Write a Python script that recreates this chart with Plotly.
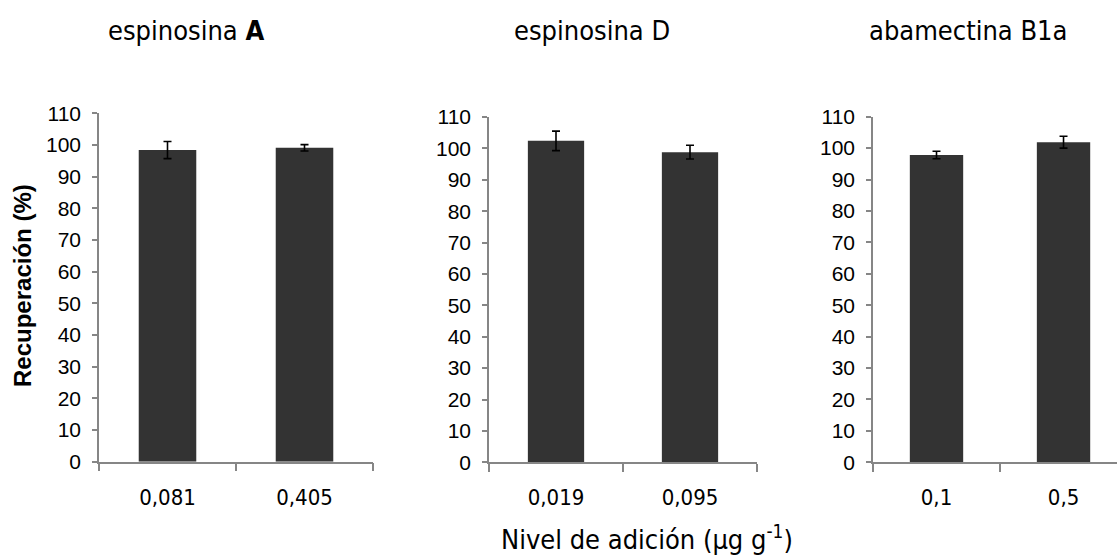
import plotly.graph_objects as go

W, H = 1117, 555

titles = ["espinosina <b>A</b>", "espinosina D", "abamectina B1a"]
levels = [["0,081", "0,405"], ["0,019", "0,095"], ["0,1", "0,5"]]
recovery = [[98.4, 99.1], [102.4, 98.8], [97.8, 101.9]]
errors = [[2.7, 1.0], [3.1, 2.2], [1.2, 1.9]]
y_ticks = list(range(0, 111, 10))

NARROW = "Liberation Sans Narrow, Arial Narrow, DejaVu Sans Condensed, sans-serif"
SANS = "Liberation Sans, Arial, sans-serif"
AXIS_GRAY = "#868686"
BAR = "#333333"

# pixel geometry of each panel (left, right, bottom(0), top(110))
panels = [
    dict(x0=99, x1=373, yb=461.7, yt=113.3, xr=[-0.5, 1.5]),
    dict(x0=489, x1=757, yb=462.3, yt=117.0, xr=[-0.5, 1.5]),
    dict(x0=873, x1=1117, yb=462.3, yt=116.7, xr=[-0.5, 1.421]),
]
title_cx = [186, 591.5, 968]

fig = go.Figure()
layout = dict(
    width=W, height=H,
    margin=dict(l=0, r=0, t=0, b=0),
    paper_bgcolor="white", plot_bgcolor="white",
    showlegend=False,
)

for i, p in enumerate(panels):
    sfx = "" if i == 0 else str(i + 1)
    fig.add_trace(go.Bar(
        x=levels[i], y=recovery[i],
        marker=dict(color=BAR, line=dict(width=0)),
        error_y=dict(type="data", array=errors[i], visible=True,
                     color="black", thickness=1.6, width=4),
        xaxis="x" + sfx, yaxis="y" + sfx,
        width=0.42,
    ))
    layout["xaxis" + sfx] = dict(
        domain=[p["x0"] / W, p["x1"] / W],
        anchor="y" + sfx,
        type="category",
        range=p["xr"],
        showline=True, linecolor=AXIS_GRAY, linewidth=1.5,
        ticks="outside", ticklen=8, tickcolor=AXIS_GRAY, tickwidth=1.5,
        tickson="boundaries",
        showgrid=False, zeroline=False,
        tickfont=dict(family=NARROW, size=22, color="black"),
        ticklabelstandoff=15,
        automargin=False,
    )
    layout["yaxis" + sfx] = dict(
        domain=[1 - p["yb"] / H, 1 - p["yt"] / H],
        anchor="x" + sfx,
        range=[0, 110],
        tickmode="array", tickvals=y_ticks, ticktext=[str(v) for v in y_ticks],
        showline=True, linecolor=AXIS_GRAY, linewidth=1.5,
        ticks="outside", ticklen=5, tickcolor=AXIS_GRAY, tickwidth=1.5,
        showgrid=False, zeroline=False,
        tickfont=dict(family=SANS, size=21, color="black"),
        ticklabelstandoff=7,
        automargin=False,
    )

annotations = []
for i, t in enumerate(titles):
    annotations.append(dict(
        text=t, x=title_cx[i] / W, y=1 - 31 / H, xref="paper", yref="paper",
        xanchor="center", yanchor="middle", showarrow=False,
        font=dict(family=NARROW, size=27, color="black"),
    ))
annotations.append(dict(
    text="Nivel de adición (µg g<sup>-1</sup>)", x=647 / W, y=1 - 537 / H,
    xref="paper", yref="paper", xanchor="center", yanchor="middle",
    showarrow=False, font=dict(family=NARROW, size=27, color="black"),
))
annotations.append(dict(
    text="<b>Recuperación (%)</b>", x=22 / W, y=1 - 286 / H,
    xref="paper", yref="paper", xanchor="center", yanchor="middle",
    textangle=-90, showarrow=False,
    font=dict(family=SANS, size=24, color="black"),
))
layout["annotations"] = annotations

fig.update_layout(**layout)
fig.write_html("out.html")
